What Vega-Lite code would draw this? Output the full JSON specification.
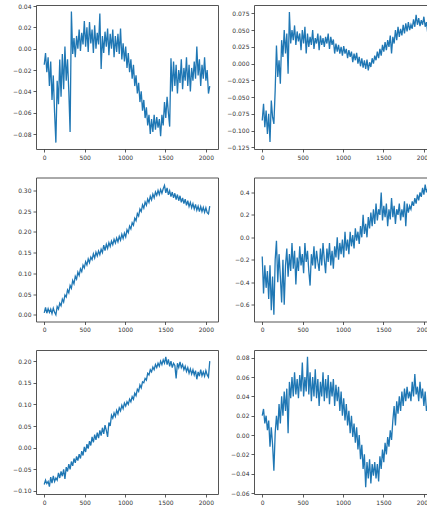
{
"$schema": "https://vega.github.io/schema/vega-lite/v6.json",
"padding": {"left": 12, "top": 2, "right": 0, "bottom": 0},
"background": "white",
"data": {"values": [
{"x":0,"a":-0.015,"b":-0.085,"c":0.005,"d":-0.17,"e":-0.085,"f":0.020},
{"x":16,"a":-0.004,"b":-0.060,"c":0.018,"d":-0.50,"e":-0.075,"f":0.027},
{"x":32,"a":-0.022,"b":-0.095,"c":0.004,"d":-0.25,"e":-0.083,"f":0.012},
{"x":48,"a":-0.008,"b":-0.070,"c":0.015,"d":-0.45,"e":-0.078,"f":0.020},
{"x":64,"a":-0.035,"b":-0.105,"c":0.006,"d":-0.30,"e":-0.090,"f":0.005},
{"x":80,"a":-0.012,"b":-0.075,"c":0.014,"d":-0.55,"e":-0.068,"f":0.015},
{"x":96,"a":-0.048,"b":-0.117,"c":0.003,"d":-0.25,"e":-0.082,"f":-0.012},
{"x":112,"a":-0.025,"b":-0.055,"c":0.016,"d":-0.65,"e":-0.065,"f":0.008},
{"x":128,"a":-0.060,"b":-0.080,"c":0.006,"d":-0.35,"e":-0.078,"f":-0.010},
{"x":144,"a":-0.088,"b":-0.090,"c":0.000,"d":-0.69,"e":-0.070,"f":-0.037},
{"x":160,"a":-0.030,"b":-0.040,"c":0.020,"d":-0.20,"e":-0.075,"f":0.002},
{"x":176,"a":-0.052,"b":0.027,"c":0.014,"d":-0.03,"e":-0.058,"f":0.020},
{"x":192,"a":-0.010,"b":-0.020,"c":0.028,"d":-0.40,"e":-0.070,"f":0.005},
{"x":208,"a":-0.045,"b":0.005,"c":0.022,"d":-0.15,"e":-0.055,"f":0.032},
{"x":224,"a":-0.005,"b":-0.030,"c":0.038,"d":-0.35,"e":-0.066,"f":0.012},
{"x":240,"a":-0.038,"b":0.035,"c":0.031,"d":-0.58,"e":-0.050,"f":0.040},
{"x":256,"a":0.002,"b":0.010,"c":0.048,"d":-0.20,"e":-0.072,"f":0.020},
{"x":272,"a":-0.030,"b":0.050,"c":0.043,"d":-0.60,"e":-0.045,"f":0.045},
{"x":288,"a":-0.010,"b":0.015,"c":0.060,"d":-0.25,"e":-0.055,"f":0.025},
{"x":304,"a":-0.040,"b":0.045,"c":0.053,"d":-0.10,"e":-0.038,"f":0.048},
{"x":320,"a":-0.078,"b":-0.015,"c":0.071,"d":-0.35,"e":-0.050,"f":0.002},
{"x":336,"a":0.035,"b":0.077,"c":0.064,"d":-0.15,"e":-0.032,"f":0.055},
{"x":352,"a":-0.005,"b":0.030,"c":0.083,"d":-0.30,"e":-0.042,"f":0.038},
{"x":368,"a":0.010,"b":0.050,"c":0.075,"d":-0.05,"e":-0.025,"f":0.060},
{"x":384,"a":-0.008,"b":0.035,"c":0.093,"d":-0.28,"e":-0.035,"f":0.040},
{"x":400,"a":0.012,"b":0.057,"c":0.086,"d":-0.12,"e":-0.020,"f":0.065},
{"x":416,"a":0.000,"b":0.028,"c":0.103,"d":-0.42,"e":-0.030,"f":0.042},
{"x":432,"a":0.018,"b":0.048,"c":0.095,"d":-0.18,"e":-0.015,"f":0.058},
{"x":448,"a":-0.002,"b":0.033,"c":0.111,"d":-0.30,"e":-0.025,"f":0.038},
{"x":464,"a":0.015,"b":0.045,"c":0.104,"d":-0.08,"e":-0.008,"f":0.062},
{"x":480,"a":0.004,"b":0.020,"c":0.120,"d":-0.25,"e":-0.018,"f":0.045},
{"x":496,"a":0.026,"b":0.050,"c":0.113,"d":-0.15,"e":0.002,"f":0.075},
{"x":512,"a":0.002,"b":0.030,"c":0.128,"d":-0.32,"e":-0.010,"f":0.040},
{"x":528,"a":0.020,"b":0.055,"c":0.120,"d":-0.05,"e":0.008,"f":0.060},
{"x":544,"a":-0.003,"b":0.015,"c":0.135,"d":-0.22,"e":-0.002,"f":0.045},
{"x":560,"a":0.025,"b":0.045,"c":0.126,"d":-0.12,"e":0.015,"f":0.081},
{"x":576,"a":0.005,"b":0.025,"c":0.139,"d":-0.30,"e":0.005,"f":0.042},
{"x":592,"a":0.018,"b":0.040,"c":0.133,"d":-0.43,"e":0.025,"f":0.065},
{"x":608,"a":-0.004,"b":0.028,"c":0.147,"d":-0.15,"e":0.012,"f":0.035},
{"x":624,"a":0.022,"b":0.050,"c":0.137,"d":-0.25,"e":0.030,"f":0.060},
{"x":640,"a":0.000,"b":0.022,"c":0.151,"d":-0.08,"e":0.018,"f":0.040},
{"x":656,"a":0.015,"b":0.038,"c":0.142,"d":-0.28,"e":0.035,"f":0.068},
{"x":672,"a":0.004,"b":0.030,"c":0.154,"d":-0.12,"e":0.022,"f":0.038},
{"x":688,"a":0.033,"b":0.045,"c":0.145,"d":-0.22,"e":0.040,"f":0.058},
{"x":704,"a":-0.019,"b":0.020,"c":0.158,"d":-0.30,"e":0.028,"f":0.030},
{"x":720,"a":0.012,"b":0.042,"c":0.150,"d":-0.10,"e":0.046,"f":0.055},
{"x":736,"a":-0.004,"b":0.028,"c":0.168,"d":-0.25,"e":0.032,"f":0.040},
{"x":752,"a":0.016,"b":0.038,"c":0.155,"d":-0.05,"e":0.052,"f":0.065},
{"x":768,"a":0.002,"b":0.025,"c":0.170,"d":-0.20,"e":0.040,"f":0.035},
{"x":784,"a":0.019,"b":0.040,"c":0.160,"d":-0.32,"e":0.025,"f":0.058},
{"x":800,"a":-0.006,"b":0.030,"c":0.174,"d":-0.10,"e":0.058,"f":0.038},
{"x":816,"a":0.014,"b":0.045,"c":0.165,"d":-0.22,"e":0.050,"f":0.062},
{"x":832,"a":0.000,"b":0.022,"c":0.178,"d":-0.05,"e":0.075,"f":0.032},
{"x":848,"a":0.018,"b":0.040,"c":0.169,"d":-0.25,"e":0.068,"f":0.055},
{"x":864,"a":-0.008,"b":0.028,"c":0.182,"d":-0.12,"e":0.080,"f":0.040},
{"x":880,"a":0.012,"b":0.036,"c":0.173,"d":-0.28,"e":0.072,"f":0.058},
{"x":896,"a":-0.003,"b":0.015,"c":0.185,"d":-0.08,"e":0.086,"f":0.030},
{"x":912,"a":0.014,"b":0.030,"c":0.176,"d":-0.18,"e":0.078,"f":0.052},
{"x":928,"a":-0.005,"b":0.018,"c":0.189,"d":0.00,"e":0.092,"f":0.035},
{"x":944,"a":0.019,"b":0.028,"c":0.180,"d":-0.20,"e":0.085,"f":0.050},
{"x":960,"a":-0.010,"b":0.015,"c":0.194,"d":-0.05,"e":0.098,"f":0.025},
{"x":976,"a":0.005,"b":0.025,"c":0.184,"d":-0.15,"e":0.090,"f":0.045},
{"x":992,"a":-0.012,"b":0.012,"c":0.197,"d":-0.02,"e":0.103,"f":0.020},
{"x":1008,"a":0.002,"b":0.026,"c":0.188,"d":-0.18,"e":0.096,"f":0.038},
{"x":1024,"a":-0.018,"b":0.015,"c":0.205,"d":0.05,"e":0.106,"f":0.015},
{"x":1040,"a":-0.004,"b":0.022,"c":0.198,"d":-0.12,"e":0.100,"f":0.032},
{"x":1056,"a":-0.022,"b":0.008,"c":0.214,"d":-0.02,"e":0.112,"f":0.010},
{"x":1072,"a":-0.010,"b":0.020,"c":0.207,"d":-0.15,"e":0.106,"f":0.025},
{"x":1088,"a":-0.028,"b":0.010,"c":0.222,"d":0.05,"e":0.118,"f":0.002},
{"x":1104,"a":-0.015,"b":0.018,"c":0.216,"d":-0.08,"e":0.112,"f":0.020},
{"x":1120,"a":-0.035,"b":0.002,"c":0.233,"d":0.02,"e":0.126,"f":-0.002},
{"x":1136,"a":-0.025,"b":0.015,"c":0.227,"d":-0.10,"e":0.120,"f":0.012},
{"x":1152,"a":-0.042,"b":0.005,"c":0.244,"d":0.08,"e":0.135,"f":-0.008},
{"x":1168,"a":-0.032,"b":0.016,"c":0.238,"d":-0.03,"e":0.130,"f":0.008},
{"x":1184,"a":-0.050,"b":0.000,"c":0.255,"d":0.05,"e":0.145,"f":-0.015},
{"x":1200,"a":-0.040,"b":0.010,"c":0.249,"d":-0.06,"e":0.138,"f":0.000},
{"x":1216,"a":-0.058,"b":-0.004,"c":0.265,"d":0.10,"e":0.152,"f":-0.025},
{"x":1232,"a":-0.048,"b":0.008,"c":0.257,"d":0.00,"e":0.150,"f":-0.010},
{"x":1248,"a":-0.065,"b":-0.006,"c":0.272,"d":0.20,"e":0.160,"f":-0.035},
{"x":1264,"a":-0.055,"b":0.005,"c":0.264,"d":0.03,"e":0.156,"f":-0.020},
{"x":1280,"a":-0.072,"b":-0.008,"c":0.279,"d":0.12,"e":0.172,"f":-0.054},
{"x":1296,"a":-0.062,"b":0.006,"c":0.271,"d":0.00,"e":0.168,"f":-0.028},
{"x":1312,"a":-0.080,"b":-0.010,"c":0.286,"d":0.18,"e":0.180,"f":-0.045},
{"x":1328,"a":-0.066,"b":0.002,"c":0.277,"d":0.08,"e":0.175,"f":-0.025},
{"x":1344,"a":-0.078,"b":-0.005,"c":0.291,"d":0.22,"e":0.186,"f":-0.050},
{"x":1360,"a":-0.062,"b":0.008,"c":0.282,"d":0.10,"e":0.180,"f":-0.030},
{"x":1376,"a":-0.076,"b":0.000,"c":0.296,"d":0.25,"e":0.192,"f":-0.042},
{"x":1392,"a":-0.064,"b":0.012,"c":0.288,"d":0.12,"e":0.185,"f":-0.028},
{"x":1408,"a":-0.074,"b":0.005,"c":0.300,"d":0.30,"e":0.195,"f":-0.045},
{"x":1424,"a":-0.066,"b":0.018,"c":0.290,"d":0.15,"e":0.188,"f":-0.030},
{"x":1440,"a":-0.082,"b":0.008,"c":0.302,"d":0.25,"e":0.200,"f":-0.048},
{"x":1456,"a":-0.062,"b":0.022,"c":0.293,"d":0.20,"e":0.192,"f":-0.022},
{"x":1472,"a":-0.072,"b":0.012,"c":0.304,"d":0.40,"e":0.203,"f":-0.035},
{"x":1488,"a":-0.050,"b":0.028,"c":0.312,"d":0.15,"e":0.195,"f":-0.015},
{"x":1504,"a":-0.065,"b":0.018,"c":0.294,"d":0.28,"e":0.210,"f":-0.028},
{"x":1520,"a":-0.045,"b":0.032,"c":0.306,"d":0.18,"e":0.192,"f":-0.008},
{"x":1536,"a":-0.060,"b":0.020,"c":0.289,"d":0.30,"e":0.204,"f":-0.020},
{"x":1552,"a":-0.073,"b":0.035,"c":0.299,"d":0.10,"e":0.188,"f":-0.002},
{"x":1568,"a":-0.009,"b":0.025,"c":0.285,"d":0.25,"e":0.200,"f":-0.012},
{"x":1584,"a":-0.040,"b":0.042,"c":0.296,"d":0.16,"e":0.185,"f":0.005},
{"x":1600,"a":-0.012,"b":0.015,"c":0.282,"d":0.35,"e":0.195,"f":-0.005},
{"x":1616,"a":-0.035,"b":0.040,"c":0.293,"d":0.18,"e":0.190,"f":0.015},
{"x":1632,"a":-0.015,"b":0.030,"c":0.278,"d":0.28,"e":0.160,"f":0.030},
{"x":1648,"a":-0.042,"b":0.050,"c":0.290,"d":0.12,"e":0.195,"f":0.010},
{"x":1664,"a":-0.020,"b":0.035,"c":0.275,"d":0.25,"e":0.185,"f":0.035},
{"x":1680,"a":-0.032,"b":0.055,"c":0.287,"d":0.20,"e":0.198,"f":0.022},
{"x":1696,"a":-0.010,"b":0.040,"c":0.271,"d":0.30,"e":0.185,"f":0.040},
{"x":1712,"a":-0.038,"b":0.052,"c":0.282,"d":0.15,"e":0.192,"f":0.025},
{"x":1728,"a":-0.018,"b":0.042,"c":0.268,"d":0.25,"e":0.180,"f":0.045},
{"x":1744,"a":-0.030,"b":0.058,"c":0.279,"d":0.18,"e":0.188,"f":0.030},
{"x":1760,"a":-0.008,"b":0.045,"c":0.264,"d":0.32,"e":0.176,"f":0.048},
{"x":1776,"a":-0.035,"b":0.060,"c":0.275,"d":0.10,"e":0.185,"f":0.035},
{"x":1792,"a":-0.015,"b":0.048,"c":0.261,"d":0.30,"e":0.172,"f":0.050},
{"x":1808,"a":-0.040,"b":0.062,"c":0.271,"d":0.22,"e":0.182,"f":0.038},
{"x":1824,"a":-0.018,"b":0.050,"c":0.258,"d":0.28,"e":0.170,"f":0.045},
{"x":1840,"a":-0.030,"b":0.058,"c":0.268,"d":0.25,"e":0.180,"f":0.035},
{"x":1856,"a":-0.012,"b":0.052,"c":0.255,"d":0.32,"e":0.168,"f":0.055},
{"x":1872,"a":-0.028,"b":0.066,"c":0.266,"d":0.28,"e":0.178,"f":0.040},
{"x":1888,"a":0.002,"b":0.055,"c":0.252,"d":0.35,"e":0.158,"f":0.063},
{"x":1904,"a":-0.025,"b":0.073,"c":0.262,"d":0.30,"e":0.175,"f":0.042},
{"x":1920,"a":-0.010,"b":0.058,"c":0.249,"d":0.38,"e":0.165,"f":0.050},
{"x":1936,"a":-0.035,"b":0.068,"c":0.261,"d":0.33,"e":0.180,"f":0.035},
{"x":1952,"a":-0.015,"b":0.056,"c":0.249,"d":0.40,"e":0.166,"f":0.055},
{"x":1968,"a":-0.028,"b":0.065,"c":0.259,"d":0.36,"e":0.175,"f":0.038},
{"x":1984,"a":-0.008,"b":0.058,"c":0.247,"d":0.44,"e":0.165,"f":0.048},
{"x":2000,"a":-0.030,"b":0.070,"c":0.258,"d":0.38,"e":0.178,"f":0.030},
{"x":2016,"a":-0.020,"b":0.055,"c":0.246,"d":0.47,"e":0.168,"f":0.045},
{"x":2032,"a":-0.042,"b":0.062,"c":0.243,"d":0.40,"e":0.163,"f":0.025},
{"x":2048,"a":-0.035,"b":0.045,"c":0.262,"d":0.44,"e":0.200,"f":0.032}
]},
"columns": 2,
"spacing": {"column": 36, "row": 28.5},
"bounds": "flush",
"concat": [
{"width": 182, "height": 144, "mark": {"type": "line", "color": "#1f77b4", "strokeWidth": 1.3},
 "encoding": {
  "x": {"field": "x", "type": "quantitative", "scale": {"domain": [-102, 2150], "nice": false, "zero": false}, "axis": {"values": [0, 500, 1000, 1500, 2000], "format": "d", "title": null}},
  "y": {"field": "a", "type": "quantitative", "scale": {"domain": [-0.094, 0.041], "nice": false, "zero": false}, "axis": {"values": [-0.08, -0.06, -0.04, -0.02, 0, 0.02, 0.04], "format": ".2f", "title": null}}}},
{"width": 182, "height": 144, "mark": {"type": "line", "color": "#1f77b4", "strokeWidth": 1.3},
 "encoding": {
  "x": {"field": "x", "type": "quantitative", "scale": {"domain": [-102, 2150], "nice": false, "zero": false}, "axis": {"values": [0, 500, 1000, 1500, 2000], "format": "d", "title": null}},
  "y": {"field": "b", "type": "quantitative", "scale": {"domain": [-0.1275, 0.0875], "nice": false, "zero": false}, "axis": {"values": [-0.125, -0.1, -0.075, -0.05, -0.025, 0, 0.025, 0.05, 0.075], "format": ".3f", "title": null}}}},
{"width": 182, "height": 144, "mark": {"type": "line", "color": "#1f77b4", "strokeWidth": 1.3},
 "encoding": {
  "x": {"field": "x", "type": "quantitative", "scale": {"domain": [-102, 2150], "nice": false, "zero": false}, "axis": {"values": [0, 500, 1000, 1500, 2000], "format": "d", "title": null}},
  "y": {"field": "c", "type": "quantitative", "scale": {"domain": [-0.016, 0.331], "nice": false, "zero": false}, "axis": {"values": [0, 0.05, 0.1, 0.15, 0.2, 0.25, 0.3], "format": ".2f", "title": null}}}},
{"width": 182, "height": 144, "mark": {"type": "line", "color": "#1f77b4", "strokeWidth": 1.3},
 "encoding": {
  "x": {"field": "x", "type": "quantitative", "scale": {"domain": [-102, 2150], "nice": false, "zero": false}, "axis": {"values": [0, 500, 1000, 1500, 2000], "format": "d", "title": null}},
  "y": {"field": "d", "type": "quantitative", "scale": {"domain": [-0.75, 0.533], "nice": false, "zero": false}, "axis": {"values": [-0.6, -0.4, -0.2, 0, 0.2, 0.4], "format": ".1f", "title": null}}}},
{"width": 182, "height": 144, "mark": {"type": "line", "color": "#1f77b4", "strokeWidth": 1.3},
 "encoding": {
  "x": {"field": "x", "type": "quantitative", "scale": {"domain": [-102, 2150], "nice": false, "zero": false}, "axis": {"values": [0, 500, 1000, 1500, 2000], "format": "d", "title": null}},
  "y": {"field": "e", "type": "quantitative", "scale": {"domain": [-0.107, 0.2256], "nice": false, "zero": false}, "axis": {"values": [-0.1, -0.05, 0, 0.05, 0.1, 0.15, 0.2], "format": ".2f", "title": null}}}},
{"width": 182, "height": 144, "mark": {"type": "line", "color": "#1f77b4", "strokeWidth": 1.3},
 "encoding": {
  "x": {"field": "x", "type": "quantitative", "scale": {"domain": [-102, 2150], "nice": false, "zero": false}, "axis": {"values": [0, 500, 1000, 1500, 2000], "format": "d", "title": null}},
  "y": {"field": "f", "type": "quantitative", "scale": {"domain": [-0.061, 0.088], "nice": false, "zero": false}, "axis": {"values": [-0.06, -0.04, -0.02, 0, 0.02, 0.04, 0.06, 0.08], "format": ".2f", "title": null}}}}
],
"config": {
 "view": {"stroke": "#555", "strokeWidth": 1},
 "axis": {"grid": false, "domain": false, "labelFont": "DejaVu Sans", "labelFontSize": 6, "labelColor": "#333", "tickColor": "#333", "tickSize": 3, "tickWidth": 0.8, "labelPadding": 2, "labelFlush": false, "labelOverlap": false}
}
}
